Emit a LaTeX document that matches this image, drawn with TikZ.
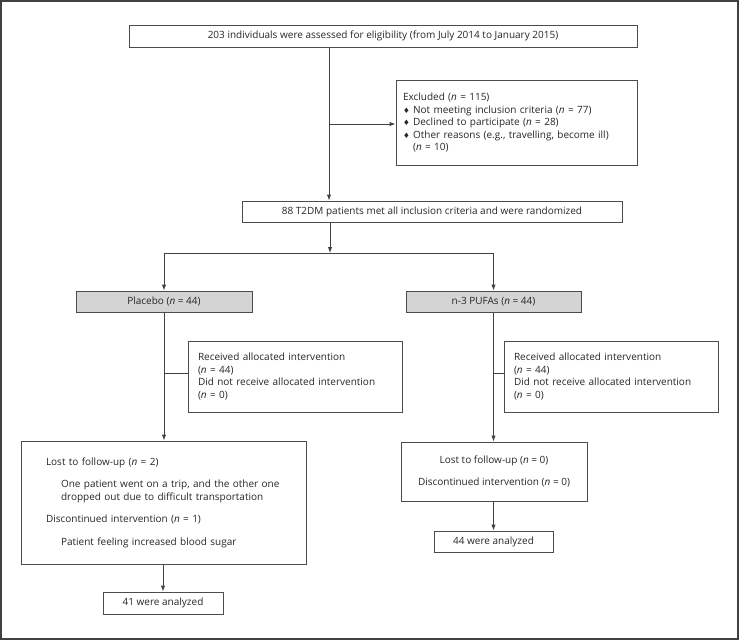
\documentclass[tikz,border=0pt]{standalone}
\usepackage{fontspec}
\setmainfont{Open Sans}
\newfontfamily\symfont{DejaVu Sans}
\usetikzlibrary{arrows.meta}

\newcommand{\nval}{\textit{n}}
\newcommand{\dmd}{{\symfont\fontsize{7.5}{7.5}\selectfont ♦}\ }

\begin{document}
\begin{tikzpicture}[x = 1pt, y = -1pt,
		every node/.style = {font = \fontsize{10}{12.5}\selectfont, text = black!85},
		box/.style = {draw = black!70, line width = 1pt, inner ysep = 0pt, inner xsep = 0pt},
		grey/.style = {box, fill = black!17},
		arr/.style = {-{Latex[length = 6pt, width = 4.5pt]}}]
	
		\useasboundingbox (0, 0) rectangle (739, 640);
		\draw[line width = 2pt, black!75] (1, 1) rectangle (738, 639);
		
		\node[box, minimum width = 508, minimum height = 22] (assessed) at (383, 36) {203 individuals were assessed for eligibility (from July 2014 to January 2015)};
		\node[box, minimum width = 241, minimum height = 85, text width = 227, inner xsep = 7, align = left] (excluded) at (516.5, 122.5)
			{Excluded (\nval{} = 115)\\
			\dmd Not meeting inclusion criteria (\nval{} = 77)\\
			\dmd Declined to participate (\nval{} = 28)\\
			\dmd Other reasons (e.g., travelling, become ill)\\
			\phantom{\dmd}(\nval{} = 10)};
		\node[box, minimum width = 380, minimum height = 21] (random) at (432, 211.5) {88 T2DM patients met all inclusion criteria and were randomized};
		
		\node[grey, minimum width = 176, minimum height = 21] (placebo) at (164, 301.5) {Placebo (\nval{} = 44)};
		\node[grey, minimum width = 175, minimum height = 21] (pufa) at (493.5, 301.5) {n-3 PUFAs (\nval{} = 44)};
		
		\node[box, minimum width = 214, minimum height = 71, text width = 194, inner xsep = 10, align = left] (recL) at (295, 376.5)
			{Received allocated intervention\\(\nval{} = 44)\\Did not receive allocated intervention\\(\nval{} = 0)};
		\node[box, minimum width = 214, minimum height = 71, text width = 194, inner xsep = 10, align = left] (recR) at (611, 376.5)
			{Received allocated intervention\\(\nval{} = 44)\\Did not receive allocated intervention\\(\nval{} = 0)};
		
		\node[box, minimum width = 285, minimum height = 123, text width = 235, inner xsep = 25, align = left] (lostL) at (163.5, 502.5)
			{Lost to follow-up (\nval{} = 2)\\[10pt]
			\hspace*{15pt}One patient went on a trip, and the other one\\
			\hspace*{15pt}dropped out due to difficult transportation\\[10pt]
			Discontinued intervention (\nval{} = 1)\\[10pt]
			\hspace*{15pt}Patient feeling increased blood sugar};
		\node[box, minimum width = 186, minimum height = 59, align = center] (lostR) at (494, 471.5)
			{Lost to follow-up (\nval{} = 0)\\[10pt]Discontinued intervention (\nval{} = 0)};
		
		\node[box, minimum width = 120, minimum height = 22] (anaL) at (163, 603) {41 were analyzed};
		\node[box, minimum width = 119, minimum height = 21] (anaR) at (493.5, 541.5) {44 were analyzed};
		
		\coordinate (exsplit) at (329, 124);
		\coordinate (randsplit) at (330, 253);
		\coordinate (splitL) at (164, 373);
		\coordinate (splitR) at (494, 373);
		
		\begin{scope}[draw = black!75, line width = 1pt]
		\draw[arr] (assessed.south -| exsplit) -- (random.north -| exsplit);
		\draw[arr] (exsplit) -- (exsplit -| excluded.west);
		\draw[arr] (random.south -| randsplit) -- (randsplit);
		\draw[arr] (randsplit -| placebo.north) -- (placebo.north);
		\draw (randsplit -| placebo.north) -- (randsplit -| pufa.north);
		\draw[arr] (randsplit -| pufa.north) -- (pufa.north);
		
		\draw[arr] (placebo.south) -- (lostL.north -| placebo.south);
		\draw (splitL) -- (splitL -| recL.west);
		\draw[arr] (pufa.south) -- (lostR.north -| pufa.south);
		\draw (splitR) -- (splitR -| recR.west);
		
		\draw[arr] (lostL.south -| anaL.north) -- (anaL.north);
		\draw[arr] (lostR.south -| anaR.north) -- (anaR.north);
		\end{scope}
	\end{tikzpicture}
\end{document}
